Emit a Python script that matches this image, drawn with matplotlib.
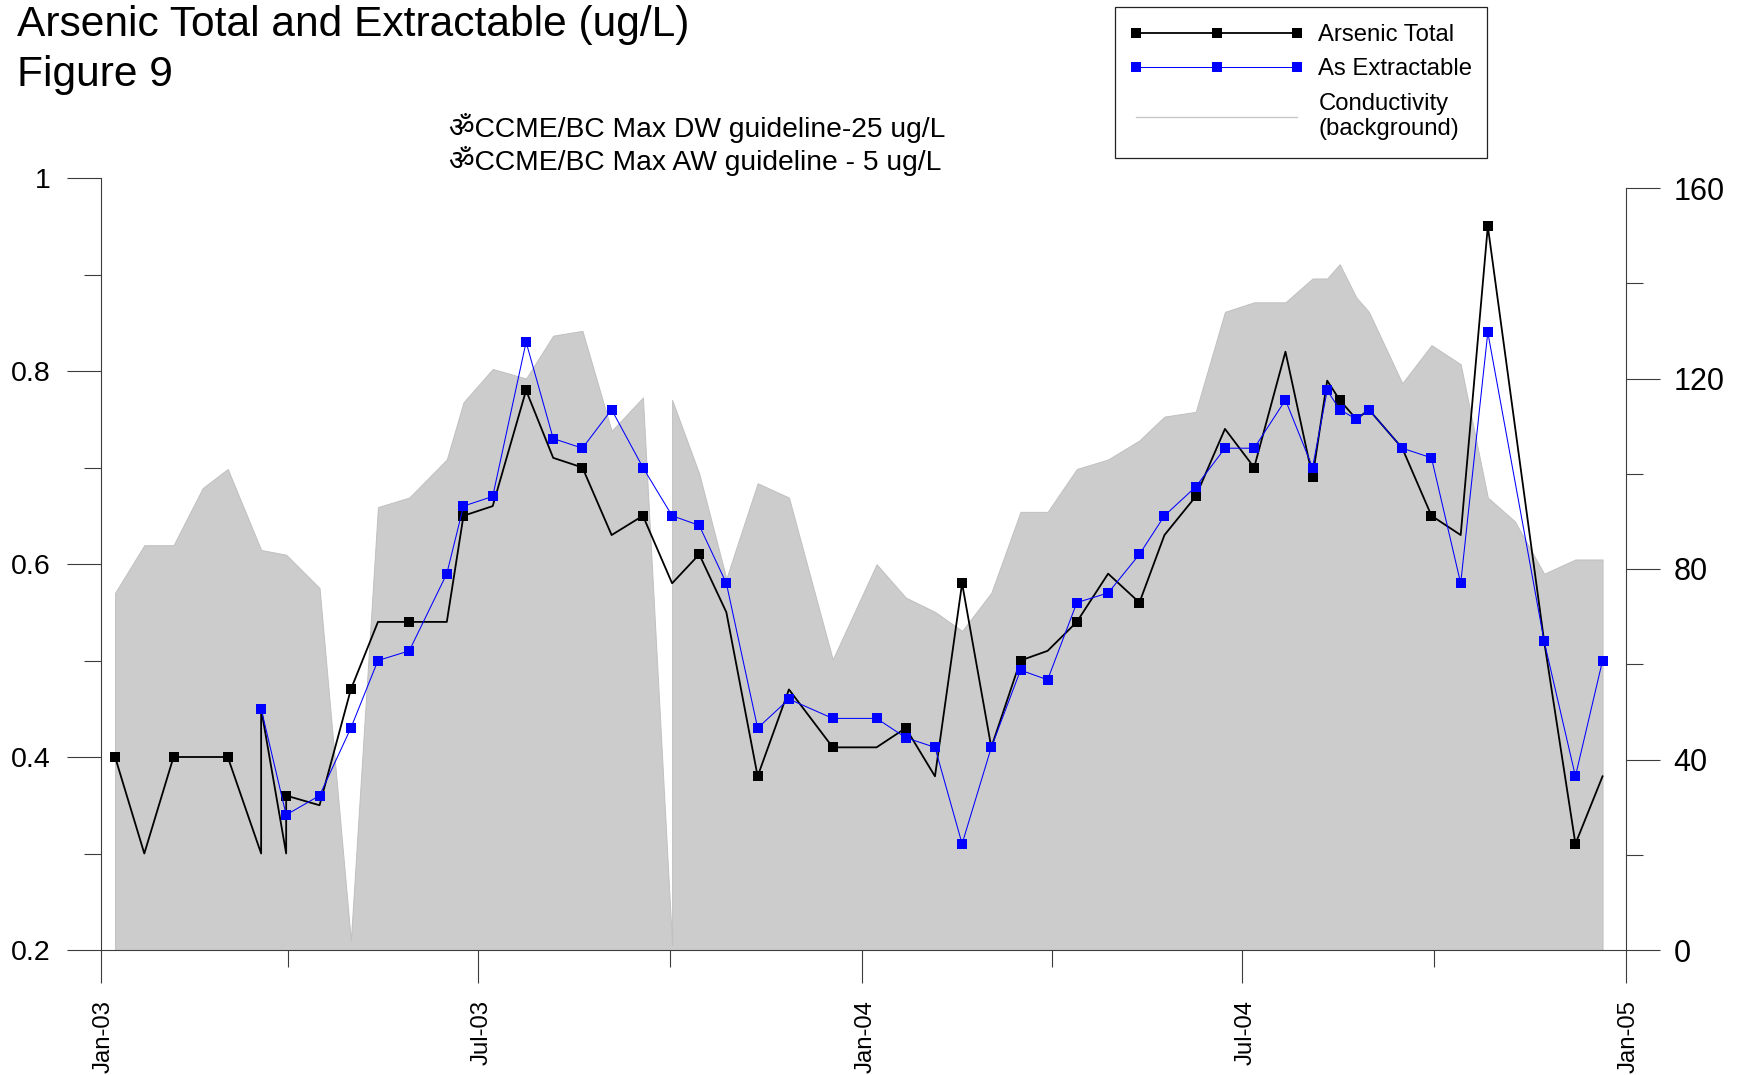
import numpy as np
import matplotlib
matplotlib.use('Agg')
import matplotlib.pyplot as plt
import matplotlib.dates as mdates
from matplotlib.lines import Line2D
from matplotlib.patches import Rectangle
from matplotlib.legend_handler import HandlerLine2D
from matplotlib.transforms import ScaledTranslation

plt.rcParams['font.family'] = ['Liberation Sans', 'Noto Sans', 'DejaVu Sans']

# conductivity (right axis), the 2003-10-02 sample appears twice (gap in the fill)
cond_dates = np.array([
    '2003-01-08', '2003-01-22', '2003-02-05', '2003-02-19', '2003-03-03', '2003-03-19', '2003-03-31',
    '2003-04-16', '2003-05-01', '2003-05-14', '2003-05-29', '2003-06-16', '2003-06-24', '2003-07-08',
    '2003-07-24', '2003-08-06', '2003-08-20', '2003-09-03', '2003-09-18', '2003-10-02', '2003-10-02',
    '2003-10-15', '2003-10-28', '2003-11-12', '2003-11-27', '2003-12-18', '2004-01-08', '2004-01-22',
    '2004-02-05', '2004-02-18', '2004-03-03', '2004-03-17', '2004-03-30', '2004-04-13', '2004-04-28',
    '2004-05-13', '2004-05-25', '2004-06-09', '2004-06-23', '2004-07-07', '2004-07-22', '2004-08-04',
    '2004-08-11', '2004-08-17', '2004-08-25', '2004-08-31', '2004-09-16', '2004-09-30', '2004-10-14',
    '2004-10-27', '2004-11-09', '2004-11-23', '2004-12-08', '2004-12-21'], dtype='datetime64[D]')
cond_values = [
    75, 85, 85, 97, 101, 84, 83,
    76, 2, 93, 95, 103, 115, 122,
    120, 129, 130, 109, 116, 1, 115.5,
    100, 78, 98, 95, 61, 81, 74,
    71, 67, 75, 92, 92, 101, 103,
    107, 112, 113, 134, 136, 136, 141,
    141, 144, 137, 134, 119, 127, 123,
    95, 90, 79, 82, 82]

# arsenic total, non detects drawn as line vertices on the same date
total_dates = np.array([
    '2003-01-08', '2003-01-22', '2003-02-05', '2003-03-03', '2003-03-19', '2003-03-19', '2003-03-31',
    '2003-03-31', '2003-04-16', '2003-05-01', '2003-05-14', '2003-05-29', '2003-06-16', '2003-06-24',
    '2003-07-08', '2003-07-24', '2003-08-06', '2003-08-20', '2003-09-03', '2003-09-18', '2003-10-02',
    '2003-10-15', '2003-10-28', '2003-11-12', '2003-11-27', '2003-12-18', '2004-01-08', '2004-01-22',
    '2004-02-05', '2004-02-18', '2004-03-03', '2004-03-17', '2004-03-30', '2004-04-13', '2004-04-28',
    '2004-05-13', '2004-05-25', '2004-06-09', '2004-06-23', '2004-07-07', '2004-07-22', '2004-08-04',
    '2004-08-11', '2004-08-17', '2004-08-25', '2004-08-31', '2004-09-16', '2004-09-30', '2004-10-14',
    '2004-10-27', '2004-11-23', '2004-12-08', '2004-12-21'], dtype='datetime64[D]')
total_values = [
    0.40, 0.30, 0.40, 0.40, 0.30, 0.45, 0.30,
    0.36, 0.35, 0.47, 0.54, 0.54, 0.54, 0.65,
    0.66, 0.78, 0.71, 0.70, 0.63, 0.65, 0.58,
    0.61, 0.55, 0.38, 0.47, 0.41, 0.41, 0.43,
    0.38, 0.58, 0.41, 0.50, 0.51, 0.54, 0.59,
    0.56, 0.63, 0.67, 0.74, 0.70, 0.82, 0.69,
    0.79, 0.77, 0.75, 0.76, 0.72, 0.65, 0.63,
    0.95, 0.52, 0.31, 0.38]
total_marked = [0, 2, 3, 5, 7, 9, 11, 13, 15, 17, 19, 21, 23, 25, 27, 29, 30, 31, 33, 35,
                37, 39, 41, 43, 45, 46, 47, 49, 50, 51]

extract_dates = np.array([
    '2003-03-19', '2003-03-31', '2003-04-16', '2003-05-01', '2003-05-14', '2003-05-29', '2003-06-16',
    '2003-06-24', '2003-07-08', '2003-07-24', '2003-08-06', '2003-08-20', '2003-09-03', '2003-09-18',
    '2003-10-02', '2003-10-15', '2003-10-28', '2003-11-12', '2003-11-27', '2003-12-18', '2004-01-08',
    '2004-01-22', '2004-02-05', '2004-02-18', '2004-03-03', '2004-03-17', '2004-03-30', '2004-04-13',
    '2004-04-28', '2004-05-13', '2004-05-25', '2004-06-09', '2004-06-23', '2004-07-07', '2004-07-22',
    '2004-08-04', '2004-08-11', '2004-08-17', '2004-08-25', '2004-08-31', '2004-09-16', '2004-09-30',
    '2004-10-14', '2004-10-27', '2004-11-23', '2004-12-08', '2004-12-21'], dtype='datetime64[D]')
extract_values = [
    0.45, 0.34, 0.36, 0.43, 0.50, 0.51, 0.59,
    0.66, 0.67, 0.83, 0.73, 0.72, 0.76, 0.70,
    0.65, 0.64, 0.58, 0.43, 0.46, 0.44, 0.44,
    0.42, 0.41, 0.31, 0.41, 0.49, 0.48, 0.56,
    0.57, 0.61, 0.65, 0.68, 0.72, 0.72, 0.77,
    0.70, 0.78, 0.76, 0.75, 0.76, 0.72, 0.71,
    0.58, 0.84, 0.52, 0.38, 0.50]

W, H = 1741, 1075
AXIS = '#3c3c3c'
MS = 7.0

fig = plt.figure(figsize=(W / 100, H / 100), dpi=100)

def box(top):
    return [100.5 / W, (H - 950) / H, 1525 / W, (950 - top) / H]

ax2 = fig.add_axes(box(188), zorder=1)
ax1 = fig.add_axes(box(178), zorder=2)
ax1.patch.set_visible(False)

# background
ax2.fill_between(cond_dates, cond_values, 0, facecolor='#cccccc', edgecolor='#c0c0c0', linewidth=0.7)
ax2.set_ylim(0, 160)
ax2.set_yticks(np.arange(0, 161, 40))
ax2.set_yticks(np.arange(20, 160, 40), minor=True)
ax2.yaxis.tick_right()
ax2.xaxis.set_visible(False)
ax2.tick_params(axis='y', which='major', length=24.5, width=0.8, color=AXIS, labelsize=22, pad=10)
ax2.tick_params(axis='y', which='minor', length=12, width=0.8, color=AXIS)
for s in ['top', 'left', 'bottom']:
    ax2.spines[s].set_visible(False)
ax2.spines['right'].set_color(AXIS)
ax2.spines['right'].set_linewidth(0.8)

ax1.plot(total_dates, total_values, color='black', lw=1.3, marker='s', ms=MS, mew=0,
         markevery=total_marked, zorder=3)
ax1.plot(extract_dates, extract_values, color='#0000ff', lw=0.75, marker='s', ms=MS, mew=0, zorder=4)

ax1.set_ylim(0.2, 1.0)
ax1.set_yticks([0.2, 0.4, 0.6, 0.8, 1.0])
ax1.set_yticklabels(['0.2', '0.4', '0.6', '0.8', '1'])
ax1.set_yticks([0.3, 0.5, 0.7, 0.9], minor=True)
ax1.tick_params(axis='y', which='major', length=24.5, width=0.8, color=AXIS, labelsize=20.5, pad=11.5)
ax1.tick_params(axis='y', which='minor', length=12, width=0.8, color=AXIS)

xlim = (np.datetime64('2003-01-01'), np.datetime64('2005-01-01'))
ax1.set_xlim(xlim)
ax2.set_xlim(xlim)
ax1.xaxis.set_major_locator(mdates.MonthLocator(bymonth=[1, 7]))
ax1.xaxis.set_minor_locator(mdates.MonthLocator(bymonth=[4, 10]))
ax1.xaxis.set_major_formatter(mdates.DateFormatter('%b-%y'))
ax1.tick_params(axis='x', which='major', length=24, width=0.8, color=AXIS, labelsize=17.2,
                labelrotation=90, pad=12)
ax1.tick_params(axis='x', which='minor', length=12, width=0.8, color=AXIS)
for s in ['top', 'right']:
    ax1.spines[s].set_visible(False)
for s in ['left', 'bottom']:
    ax1.spines[s].set_color(AXIS)
    ax1.spines[s].set_linewidth(0.8)

# the rotated labels sit a bit right of their ticks
for lbl in ax1.get_xticklabels():
    lbl.set_transform(lbl.get_transform() + ScaledTranslation(2.5 / 72, 0, fig.dpi_scale_trans))

# titles
fig.text(17 / W, 1 - 36 / H, 'Arsenic Total and Extractable (ug/L)', fontsize=30.6, va='baseline')
fig.text(17 / W, 1 - 86 / H, 'Figure 9', fontsize=30.6, va='baseline')
fig.text(449 / W, 1 - 137 / H, '\u0950CCME/BC Max DW guideline-25 ug/L', fontsize=20.3, va='baseline')
fig.text(449 / W, 1 - 170 / H, '\u0950CCME/BC Max AW guideline - 5 ug/L', fontsize=20.3, va='baseline')

# legend box drawn by hand, the legend itself only holds the rows
fig.add_artist(Rectangle((1115 / W, 1 - 158 / H), 372 / W, 151 / H, transform=fig.transFigure,
                         facecolor='white', edgecolor='#222222', linewidth=0.9))
h_total = Line2D([], [], color='black', lw=1.3, marker='s', ms=MS, mew=0)
h_extract = Line2D([], [], color='#0000ff', lw=0.75, marker='s', ms=MS, mew=0)
h_cond = Line2D([], [], color='#c8c8c8', lw=1.0)
leg = fig.legend([h_total, h_extract, h_cond], ['Arsenic Total', 'As Extractable', 'Conductivity\n(background)'],
                 loc='upper left', bbox_to_anchor=(1136 / W, 1 - 24 / H), borderaxespad=0, borderpad=0,
                 fontsize=17.2, handlelength=6.75, handletextpad=0.88, labelspacing=0.52, frameon=False,
                 handler_map={h_total: HandlerLine2D(marker_pad=0, numpoints=3),
                              h_extract: HandlerLine2D(marker_pad=0, numpoints=3),
                              h_cond: HandlerLine2D(marker_pad=0, numpoints=3, ypad=1.05)})
for t in leg.get_texts():
    t.set_linespacing(1.2)

plt.savefig('out.png', dpi=100)
